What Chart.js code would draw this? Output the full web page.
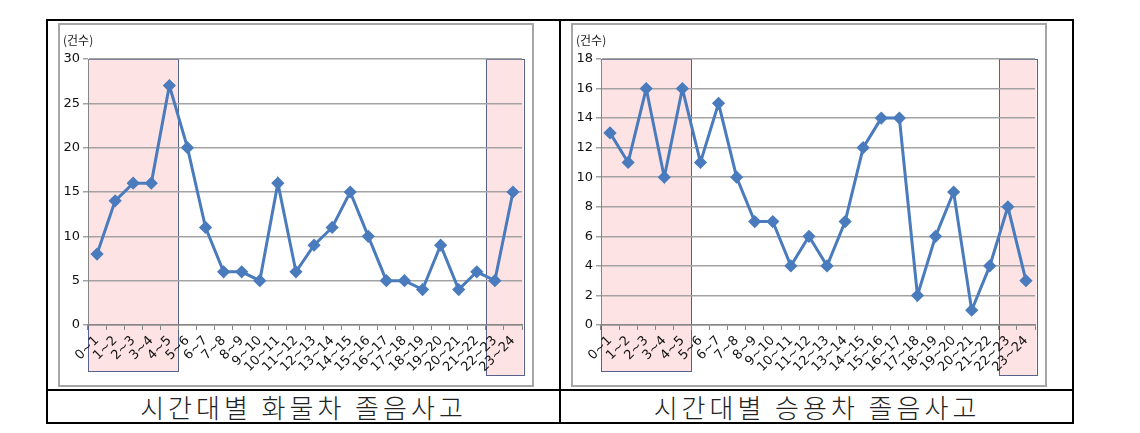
<!DOCTYPE html>
<html>
<head>
<meta charset="utf-8">
<script src="https://cdn.jsdelivr.net/npm/chart.js@4/dist/chart.umd.min.js"></script>
<style>
	body { margin: 0; background: #fff; width: 1140px; height: 433px; position: relative; overflow: hidden; }
	.box { position: absolute; box-sizing: border-box; }
	.cell { border: 2px solid #000; }
	.frame { border: 2px solid #a6a6a6; pointer-events: none; }
	canvas { position: absolute; }
	.caption {
		position: absolute; top: 390px; height: 33px; line-height: 33px;
		text-align: center; font-family: "Noto Sans CJK KR", sans-serif;
		font-size: 26px; font-weight: 300; letter-spacing: 4px; color: #222;
	}
</style>
</head>
<body>
<div class="box cell" style="left:46px; top:19px; width:1028px; height:405px"></div>
<div class="box" style="left:559px; top:19px; width:2px; height:405px; background:#000"></div>
<div class="box" style="left:46px; top:389px; width:1028px; height:2px; background:#000"></div>

<canvas id="truck" width="476" height="364" style="left:58px; top:23px"></canvas>
<div class="box frame" style="left:58px; top:23px; width:476px; height:364px"></div>
<canvas id="car" width="476" height="364" style="left:571px; top:23px"></canvas>
<div class="box frame" style="left:571px; top:23px; width:476px; height:364px"></div>

<div class="caption" style="left:48px; width:511px">시간대별 화물차 졸음사고</div>
<div class="caption" style="left:561px; width:512px">시간대별 승용차 졸음사고</div>

<script>
const hours = ["0~1", "1~2", "2~3", "3~4", "4~5", "5~6", "6~7", "7~8", "8~9", "9~10",
	"10~11", "11~12", "12~13", "13~14", "14~15", "15~16", "16~17", "17~18", "18~19",
	"19~20", "20~21", "21~22", "22~23", "23~24"]

const truckCounts = [8, 14, 16, 16, 27, 20, 11, 6, 6, 5, 16, 6, 9, 11, 15, 10, 5, 5, 4, 9, 4, 6, 5, 15]
const carCounts = [13, 11, 16, 10, 16, 11, 15, 10, 7, 7, 4, 6, 4, 7, 12, 14, 14, 2, 6, 9, 1, 4, 8, 3]

const truckAxis = { max: 30, step: 5 }
const carAxis = { max: 18, step: 2 }

// shaded night hours: [first category, last category]
const nightHours = [[0, 4], [22, 23]]

const unitLabel = "(건수)"
const lineColor = "#4a7bbd"

const nightShade = {
	id: "nightShade",
	beforeDraw: (chart) => {
		const x = chart.scales.x
		const area = chart.chartArea
		const ctx = chart.ctx
		const half = (x.getPixelForValue(1) - x.getPixelForValue(0)) / 2
		ctx.save()
		nightHours.forEach(([a, b], i) => {
			const left = x.getPixelForValue(a) - half
			const right = x.getPixelForValue(b) + half + (i ? 1.5 : 0)
			const bottom = area.bottom + (i ? 50 : 46)
			ctx.fillStyle = "#fde3e4"
			ctx.fillRect(left, area.top, right - left, bottom - area.top)
			ctx.strokeStyle = "#56628a"
			ctx.lineWidth = 1
			ctx.strokeRect(Math.round(left) + 0.5, Math.round(area.top) + 0.5, Math.round(right - left), Math.round(bottom - area.top))
		})
		ctx.restore()
	},
	afterDraw: (chart) => {
		const ctx = chart.ctx
		ctx.save()
		ctx.font = "12px 'Noto Sans CJK KR'"
		ctx.fillStyle = "#222"
		ctx.textBaseline = "middle"
		ctx.fillText(unitLabel, 5, chart.chartArea.top - 19)
		ctx.restore()
	},
}

function makeChart(id, counts, axis) {
	return new Chart(document.getElementById(id), {
		type: "line",
		data: {
			labels: hours,
			datasets: [{
				data: counts,
				borderColor: lineColor,
				backgroundColor: lineColor,
				borderWidth: 3,
				pointStyle: "rectRot",
				pointRadius: 4.5,
				tension: 0,
			}],
		},
		options: {
			responsive: false,
			animation: false,
			layout: { padding: { top: 36, right: 12, left: 0, bottom: 0 } },
			plugins: { legend: { display: false }, tooltip: { enabled: false } },
			scales: {
				x: {
					offset: true,
					afterFit: (s) => { s.height = 62 },
					grid: { offset: true, drawOnChartArea: false, tickLength: 5, color: "#868686" },
					border: { color: "#868686", width: 1.5 },
					ticks: {
						minRotation: 45, maxRotation: 45, autoSkip: false, padding: 3,
						color: "#111", font: { family: "DejaVu Sans", size: 13 },
					},
				},
				y: {
					min: 0, max: axis.max,
					afterFit: (s) => { s.width = 30 },
					grid: { color: "#a3a3a3", lineWidth: 1.5, tickLength: 5 },
					border: { color: "#868686", width: 1 },
					ticks: {
						stepSize: axis.step, padding: 3,
						color: "#111", font: { family: "DejaVu Sans", size: 13 },
					},
				},
			},
		},
		plugins: [nightShade],
	})
}

makeChart("truck", truckCounts, truckAxis)
makeChart("car", carCounts, carAxis)
</script>
</body>
</html>
